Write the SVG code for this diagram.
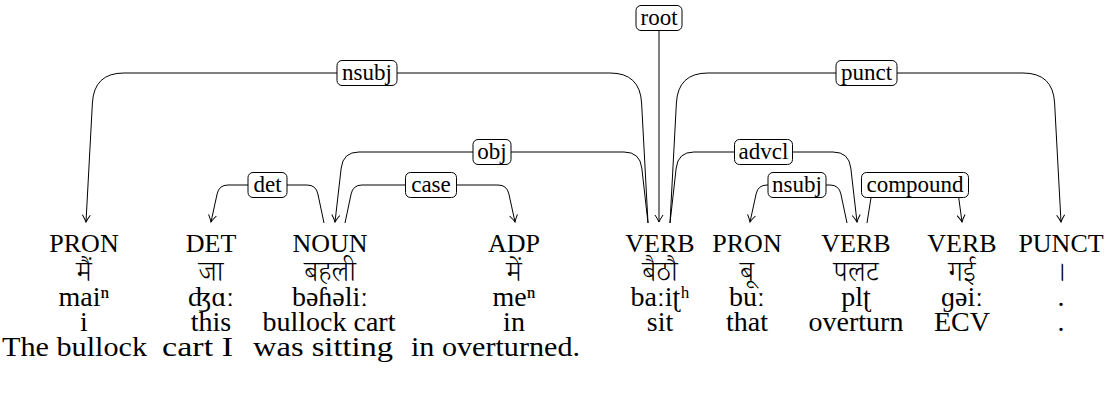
<svg xmlns="http://www.w3.org/2000/svg" width="1115" height="399" viewBox="0 0 1115 399">
<style>
.edge{fill:none;stroke:#000;stroke-width:1}
.lbl rect{fill:#fff;stroke:#000;stroke-width:1}
.lbl text{font-family:"Liberation Serif","DejaVu Serif",serif;font-size:23px;text-anchor:middle;fill:#000}
.w text{font-family:"Liberation Serif","DejaVu Serif",serif;font-size:28px;text-anchor:middle;fill:#000}
.w text.pos{font-size:26px}
.w text.dev{font-family:"Noto Serif Devanagari","Noto Sans Devanagari","Lohit Devanagari","Gargi","Mukta",sans-serif;font-size:28px;font-weight:300}
.tr{font-family:"Liberation Serif","DejaVu Serif",serif;font-size:28px;fill:#000}
</style>
<defs>
<marker id="ah" viewBox="-8 -5 10 10" refX="0" refY="0" markerWidth="10" markerHeight="10" markerUnits="userSpaceOnUse" orient="auto">
<path d="M-7,-4 Q-2.5,-1 0,0 Q-2.5,1 -7,4" fill="none" stroke="#000" stroke-width="1"/>
</marker>
</defs>
<g id="connectors">
<path class="edge" marker-end="url(#ah)" d="M659,31 V222"/>
<path class="edge" marker-end="url(#ah)" d="M648,223 L641.6,103 Q640,73 610,73 H124 Q94,73 92.4,103 L86,222"/>
<path class="edge" marker-end="url(#ah)" d="M670,223 L676.4,103 Q678,73 708,73 H1023 Q1053,73 1054.6,103 L1061,222"/>
<path class="edge" marker-end="url(#ah)" d="M648,223 L641.8,168 Q640,152 624,152 H359 Q343,152 341.2,168 L335,222"/>
<path class="edge" marker-end="url(#ah)" d="M670,223 L676.2,168 Q678,152 694,152 H833 Q849,152 850.8,168 L857,222"/>
<path class="edge" marker-end="url(#ah)" d="M324,223 L317.9,194 Q316,185 307,185 H228 Q219,185 217.1,194 L211,222"/>
<path class="edge" marker-end="url(#ah)" d="M345,223 L351.1,194 Q353,185 362,185 H498 Q507,185 508.9,194 L515,222"/>
<path class="edge" marker-end="url(#ah)" d="M847,223 L840.9,194 Q839,185 830,185 H767 Q758,185 756.1,194 L750,222"/>
<path class="edge" marker-end="url(#ah)" d="M867,223 L873,185 H957 L962,222"/>
</g>
<g id="labels">
<g class="lbl" id="lbl-root"><rect x="636" y="5.5" width="46" height="25" rx="5"/><text x="659" y="25">root</text></g>
<g class="lbl" id="lbl-nsubj"><rect x="337" y="60.5" width="60" height="25" rx="5"/><text x="367" y="80">nsubj</text></g>
<g class="lbl" id="lbl-punct"><rect x="836" y="60.5" width="61" height="25" rx="5"/><text x="866.5" y="80">punct</text></g>
<g class="lbl" id="lbl-obj"><rect x="473" y="139.5" width="38" height="25" rx="5"/><text x="492" y="159">obj</text></g>
<g class="lbl" id="lbl-advcl"><rect x="734.5" y="139.5" width="58" height="25" rx="5"/><text x="763.5" y="159">advcl</text></g>
<g class="lbl" id="lbl-det"><rect x="248" y="172.5" width="39" height="25" rx="5"/><text x="267.5" y="192">det</text></g>
<g class="lbl" id="lbl-case"><rect x="405.5" y="172.5" width="51" height="25" rx="5"/><text x="431" y="192">case</text></g>
<g class="lbl" id="lbl-nsubj2"><rect x="768" y="172.5" width="58" height="25" rx="5"/><text x="797" y="192">nsubj</text></g>
<g class="lbl" id="lbl-compound"><rect x="861.5" y="172.5" width="107" height="25" rx="5"/><text x="915" y="192">compound</text></g>
</g>
<g id="w1" class="w"><text class="pos" x="84" y="252">PRON</text><text class="dev" x="84" y="281">मैं</text><text x="84" y="306">maiⁿ</text><text x="84" y="331">i</text></g>
<g id="w2" class="w"><text class="pos" x="211" y="252">DET</text><text class="dev" x="211" y="281">जा</text><text x="211" y="306">ʤɑː</text><text x="211" y="331">this</text></g>
<g id="w3" class="w"><text class="pos" x="330" y="252">NOUN</text><text class="dev" x="330" y="281">बहली</text><text x="330" y="306">bəɦəliː</text><text x="329" y="331">bullock cart</text></g>
<g id="w4" class="w"><text class="pos" x="514" y="252">ADP</text><text class="dev" x="514" y="281">में</text><text x="514" y="306">meⁿ</text><text x="514" y="331">in</text></g>
<g id="w5" class="w"><text class="pos" x="660" y="252">VERB</text><text class="dev" x="660" y="281">बैठौ</text><text x="660" y="306">baːiʈʰ</text><text x="660" y="331">sit</text></g>
<g id="w6" class="w"><text class="pos" x="747" y="252">PRON</text><text class="dev" x="747" y="281">बू</text><text x="747" y="306">buː</text><text x="747" y="331">that</text></g>
<g id="w7" class="w"><text class="pos" x="856" y="252">VERB</text><text class="dev" x="856" y="281">पलट</text><text x="856" y="306">plʈ</text><text x="856" y="331">overturn</text></g>
<g id="w8" class="w"><text class="pos" x="962" y="252">VERB</text><text class="dev" x="962" y="281">गई</text><text x="962" y="306">ɡəiː</text><text x="962" y="331">ECV</text></g>
<g id="w9" class="w"><text class="pos" x="1061" y="252">PUNCT</text><text class="dev" x="1061" y="281">।</text><text x="1061" y="306">.</text><text x="1061" y="331">.</text></g>
<g id="translation">
<text class="tr" x="2" y="356" textLength="145" lengthAdjust="spacingAndGlyphs">The bullock</text>
<text class="tr" x="162" y="356" textLength="71" lengthAdjust="spacingAndGlyphs">cart I</text>
<text class="tr" x="253" y="356" textLength="140" lengthAdjust="spacingAndGlyphs">was sitting</text>
<text class="tr" x="411" y="356" textLength="169" lengthAdjust="spacingAndGlyphs">in overturned.</text>
</g>
</svg>
